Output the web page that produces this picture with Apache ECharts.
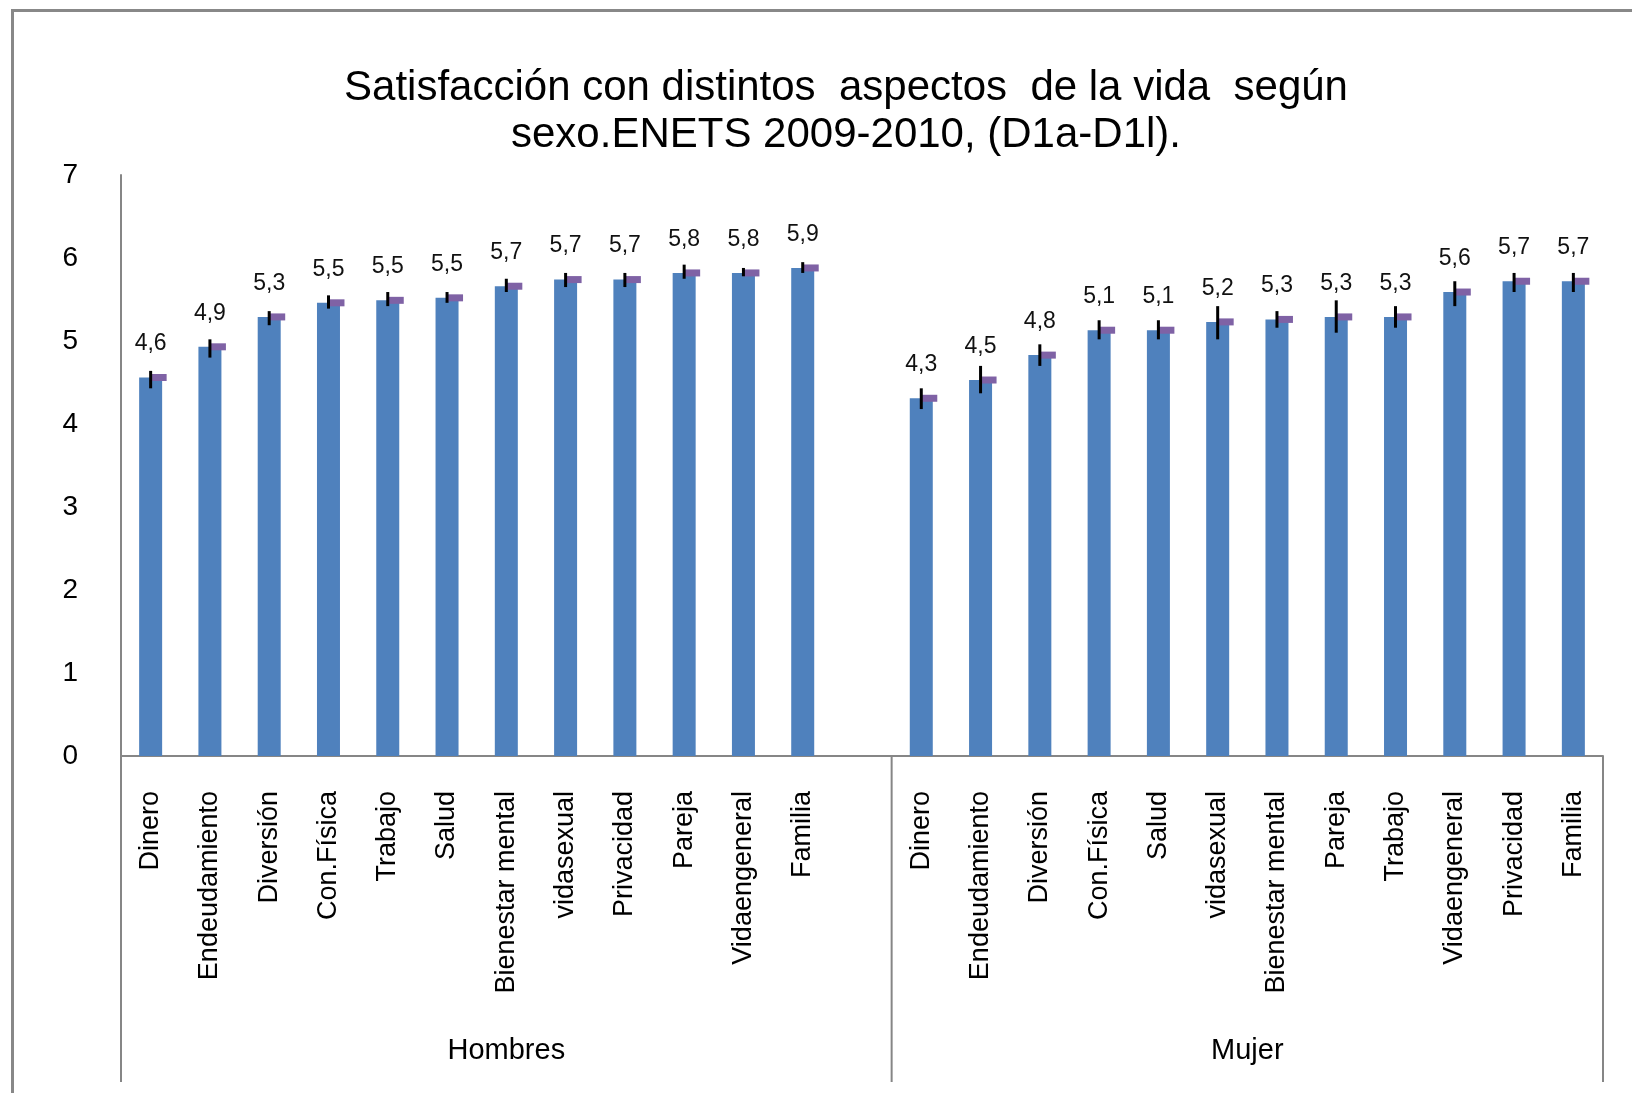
<!DOCTYPE html>
<html>
<head>
<meta charset="utf-8">
<script src="https://cdn.jsdelivr.net/npm/echarts@6/dist/echarts.min.js"></script>
<style>
html,body{margin:0;padding:0;background:#fff;}
#main{width:1632px;height:1093px;}
</style>
</head>
<body>
<div id="main"></div>
<script>
// ---- data ----
const groups = ['Hombres', 'Mujer'];
const hombresCats = ['Dinero','Endeudamiento','Diversión','Con.Física','Trabajo','Salud','Bienestar mental','vidasexual','Privacidad','Pareja','Vidaengeneral','Familia'];
const mujerCats = ['Dinero','Endeudamiento','Diversión','Con.Física','Salud','vidasexual','Bienestar mental','Pareja','Trabajo','Vidaengeneral','Privacidad','Familia'];
const hombresVals = [4.56, 4.93, 5.29, 5.46, 5.49, 5.52, 5.66, 5.74, 5.74, 5.82, 5.82, 5.88];
const mujerVals   = [4.31, 4.53, 4.83, 5.13, 5.13, 5.23, 5.26, 5.29, 5.29, 5.59, 5.72, 5.72];
const hombresLow  = [4.43, 4.80, 5.19, 5.39, 5.42, 5.46, 5.59, 5.65, 5.65, 5.75, 5.78, 5.82];
const hombresHigh = [4.64, 5.02, 5.36, 5.55, 5.59, 5.59, 5.75, 5.82, 5.82, 5.92, 5.88, 5.95];
const mujerLow    = [4.18, 4.37, 4.70, 5.02, 5.02, 5.02, 5.16, 5.10, 5.16, 5.42, 5.59, 5.59];
const mujerHigh   = [4.43, 4.70, 4.96, 5.25, 5.25, 5.42, 5.36, 5.49, 5.42, 5.72, 5.82, 5.82];
const yTicks = [0, 1, 2, 3, 4, 5, 6, 7];

// ---- build ----
const categories = hombresCats.concat([''], mujerCats);
const values = hombresVals.concat([null], mujerVals);
const lows = hombresLow.concat([null], mujerLow);
const highs = hombresHigh.concat([null], mujerHigh);
const barData = values.map(v => v == null ? '-' : v);
const markData = [];
const errData = [];
values.forEach((v, i) => {
  if (v != null) {
    markData.push([i, v]);
    errData.push([i, lows[i], highs[i]]);
  }
});

const chart = echarts.init(document.getElementById('main'), null, {renderer: 'canvas'});
const FONT = 'Liberation Sans, Arial, sans-serif';
const option = {
  animation: false,
  backgroundColor: '#ffffff',
  title: {
    text: 'Satisfacción con distintos  aspectos  de la vida  según\nsexo.ENETS 2009-2010, (D1a-D1l).',
    left: 841,
    top: 60,
    textAlign: 'center',
    textStyle: {fontFamily: FONT, fontSize: 42, fontWeight: 'normal', color: '#000', lineHeight: 47}
  },
  grid: {left: 121, right: 29, top: 175, bottom: 337, containLabel: false},
  xAxis: {
    type: 'category',
    data: categories,
    boundaryGap: true,
    axisLine: {show: true, lineStyle: {color: '#868686', width: 2}},
    axisTick: {show: false},
    axisLabel: {
      interval: 0, rotate: 90, margin: 35,
      fontFamily: FONT, fontSize: 27, color: '#000'
    },
    splitLine: {show: false}
  },
  yAxis: {
    type: 'value',
    min: 0, max: 7, interval: 1,
    axisLine: {show: true, lineStyle: {color: '#868686', width: 2}},
    axisTick: {show: false},
    splitLine: {show: false},
    axisLabel: {
      margin: 43, fontFamily: FONT, fontSize: 28, color: '#000',
      formatter: v => yTicks.indexOf(v) >= 0 ? String(v) : ''
    }
  },
  series: [
    {
      type: 'bar',
      data: barData,
      barWidth: 23,
      itemStyle: {color: '#4F81BD'},
      label: {
        show: true, position: 'top', distance: 22,
        fontFamily: FONT, fontSize: 23, color: '#111',
        formatter: p => (typeof p.value === 'number') ? p.value.toFixed(1).replace('.', ',') : ''
      },
      z: 2
    },
    {
      type: 'custom',
      data: errData,
      renderItem: function (params, api) {
        const x = api.value(0);
        const p1 = api.coord([x, api.value(1)]);
        const p2 = api.coord([x, api.value(2)]);
        return {
          type: 'line',
          shape: {x1: p1[0], y1: p1[1], x2: p2[0], y2: p2[1]},
          style: {stroke: '#000', lineWidth: 3}
        };
      },
      z: 4
    },
    {
      type: 'scatter',
      data: markData,
      symbol: 'rect',
      symbolSize: [16, 7],
      symbolOffset: [8, 0],
      itemStyle: {color: '#7F62A5', opacity: 1},
      z: 3
    }
  ]
};
chart.setOption(option);

// group separators and group labels from the axis scale
const c0 = chart.convertToPixel({xAxisIndex: 0}, 0);
const c1 = chart.convertToPixel({xAxisIndex: 0}, 1);
const step = c1 - c0;
const yBase = chart.convertToPixel({yAxisIndex: 0}, 0);
const nH = hombresCats.length + 1;
const nM = mujerCats.length;
const xStart = c0 - step / 2;
const xMid = xStart + nH * step;
const xEnd = xMid + nM * step;
const lineBottom = yBase + 326;
const gLine = {stroke: '#868686', lineWidth: 2};
chart.setOption({
  graphic: [
    {type: 'rect', shape: {x: 12.5, y: 10.5, width: 1640, height: 1100}, style: {fill: null, stroke: '#888888', lineWidth: 3}, silent: true},
    {type: 'line', shape: {x1: xStart, y1: yBase, x2: xStart, y2: lineBottom}, style: gLine},
    {type: 'line', shape: {x1: xMid, y1: yBase, x2: xMid, y2: lineBottom}, style: gLine},
    {type: 'line', shape: {x1: xEnd, y1: yBase, x2: xEnd, y2: lineBottom}, style: gLine},
    {type: 'text', x: (xStart + xMid) / 2, y: yBase + 295, style: {text: groups[0], fontFamily: FONT, fontSize: 29, fill: '#000', align: 'center', verticalAlign: 'middle'}},
    {type: 'text', x: (xMid + xEnd) / 2, y: yBase + 295, style: {text: groups[1], fontFamily: FONT, fontSize: 29, fill: '#000', align: 'center', verticalAlign: 'middle'}}
  ]
});
</script>
</body>
</html>
